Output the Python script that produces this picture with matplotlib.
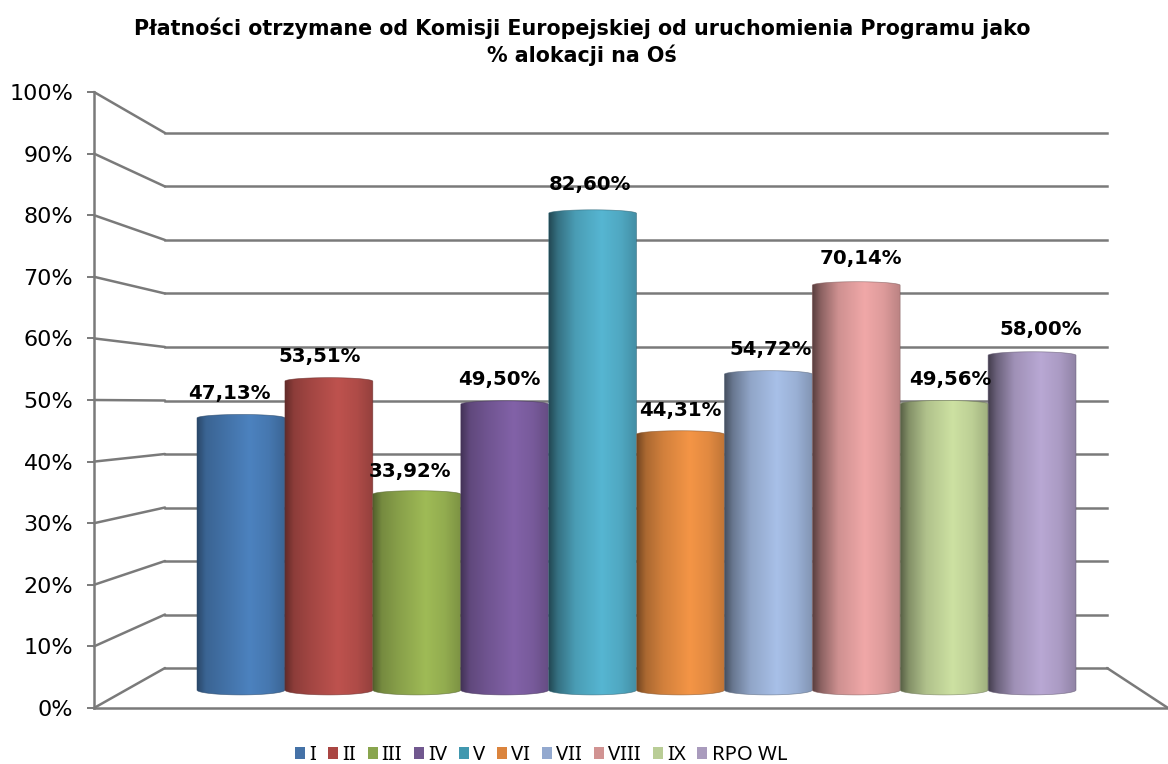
import numpy as np
import matplotlib
matplotlib.use("Agg")
import matplotlib.pyplot as plt
from matplotlib.colors import to_rgb
from matplotlib.patches import ConnectionPatch, Patch, PathPatch
from matplotlib.path import Path

categories = ["I", "II", "III", "IV", "V", "VI", "VII", "VIII", "IX", "RPO WL"]
values = [47.13, 53.51, 33.92, 49.50, 82.60, 44.31, 54.72, 70.14, 49.56, 58.00]
value_labels = ["47,13%", "53,51%", "33,92%", "49,50%", "82,60%",
                "44,31%", "54,72%", "70,14%", "49,56%", "58,00%"]
legend_colors = ["#4572A7", "#AA4643", "#89A54E", "#71588F", "#4198AF",
                 "#DB843D", "#93A9CF", "#D19392", "#B9CD96", "#A99BBD"]
peak_colors = ["#4C82BF", "#BE524E", "#9FBB56", "#8262A8", "#56B6D2",
               "#F49546", "#A8C0E8", "#F0A8A8", "#CDE1A2", "#B9A8D4"]
dark_factor = [0.55, 0.52, 0.52, 0.52, 0.40, 0.48, 0.40, 0.36, 0.42, 0.36]
yticks = list(range(0, 101, 10))
ytick_labels = [f"{v}%" for v in yticks]
title = "Płatności otrzymane od Komisji Europejskiej od uruchomienia Programu jako\n% alokacji na Oś"

W, H = 1168, 764
LINE = "#7a7a7a"
LW = 1.8
fig = plt.figure(figsize=(W / 100, H / 100), dpi=100, facecolor="white")


def px_axes(x0, y_top, x1, y_bot, **kw):
    return fig.add_axes([x0 / W, 1 - y_bot / H, (x1 - x0) / W, (y_bot - y_top) / H], **kw)


# Back wall
back = px_axes(165, 133, 1107, 668, zorder=1)
back.set_xlim(0, 1)
back.set_ylim(0, 100)
back.patch.set_visible(False)
for s in back.spines.values():
    s.set_visible(False)
back.set_xticks([])
back.set_yticks(yticks)
back.tick_params(left=False, labelleft=False)
back.grid(axis="y", color=LINE, lw=LW, zorder=0)
for gl in back.get_ygridlines():
    gl.set_clip_on(False)

# Front axis
front = px_axes(94, 92, 1168, 708, zorder=1)
front.set_xlim(0, 1)
front.set_ylim(0, 100)
front.patch.set_visible(False)
front.spines["top"].set_visible(False)
front.spines["right"].set_visible(False)
for side in ("left", "bottom"):
    front.spines[side].set_color(LINE)
    front.spines[side].set_linewidth(LW)
front.set_xticks([])
front.set_yticks(yticks)
front.set_yticklabels(ytick_labels, fontsize=16, color="black")
front.tick_params(axis="y", length=5, width=1.4, color=LINE, pad=10)

# Side wall / floor connectors
for v in yticks:
    fig.add_artist(ConnectionPatch((0, v), (0, v), coordsA=front.transData, coordsB=back.transData,
                                   arrowstyle="-", color=LINE, lw=LW, zorder=1.5))
fig.add_artist(ConnectionPatch((1, 0), (1, 0), coordsA=back.transData, coordsB=front.transData,
                               arrowstyle="-", color=LINE, lw=LW, zorder=1.5))

# Bars plane
bars = px_axes(197, 113, 1076, 690 + 2 * 5.77, zorder=2)
bars.axis("off")
stops = [0.0, 0.10, 0.30, 0.60, 0.82, 1.0]
t = np.linspace(0, 1, 256)
theta = np.linspace(0, np.pi, 60)
half = 0.4999
for i, (v, pk, d) in enumerate(zip(values, peak_colors, dark_factor)):
    base = np.array(to_rgb(pk))
    mult = [d, d + 0.22, 0.86, 1.0, 0.92, 0.78]
    grad = np.stack([np.interp(t, stops, [c * m for m in mult]) for c in base], axis=1)[None, :, :]
    im = bars.imshow(grad, extent=(i - half, i + half, -1, v + 1), aspect="auto",
                     interpolation="bilinear", zorder=3)
    xs_top = i + half * np.cos(theta)
    ys_top = v + 0.62 * np.sin(theta)
    xs_bot = i - half * np.cos(theta)
    ys_bot = -0.85 * np.sin(theta)
    verts = np.vstack([np.column_stack([xs_top, ys_top]), np.column_stack([xs_bot, ys_bot]),
                       [[xs_top[0], ys_top[0]]]])
    outline = PathPatch(Path(verts), facecolor="none", edgecolor=base * 0.55, lw=0.5,
                        alpha=0.7, zorder=4, clip_on=False)
    bars.add_patch(outline)
    im.set_clip_path(outline)
    im.set_clip_box(None)
bars.set_xlim(-0.5, 9.5)
bars.set_ylim(-2, 100)

# Data labels plane
labels = px_axes(184, 82, 1086, 672, zorder=3)
labels.axis("off")
labels.set_xlim(-0.5, 9.5)
labels.set_ylim(0, 100)
for i, (v, s) in enumerate(zip(values, value_labels)):
    labels.text(i, v, s, ha="center", va="center", fontsize=14.2, fontweight="bold", color="black")

fig.text(582 / W, 1 - 41.5 / H, title, ha="center", va="center", fontsize=14.85, fontweight="bold",
         linespacing=1.3, color="black")

handles = [Patch(facecolor=c, edgecolor="none") for c in legend_colors]
fig.legend(handles, categories, loc="center", bbox_to_anchor=(541 / W, 1 - 755 / H), ncol=10,
           frameon=False, prop={"family": "Noto Sans", "size": 14.6},
           handlelength=0.5, handleheight=0.5, handletextpad=0.2, columnspacing=0.58,
           borderpad=0, borderaxespad=0)

fig.savefig("out.png", dpi=100)
